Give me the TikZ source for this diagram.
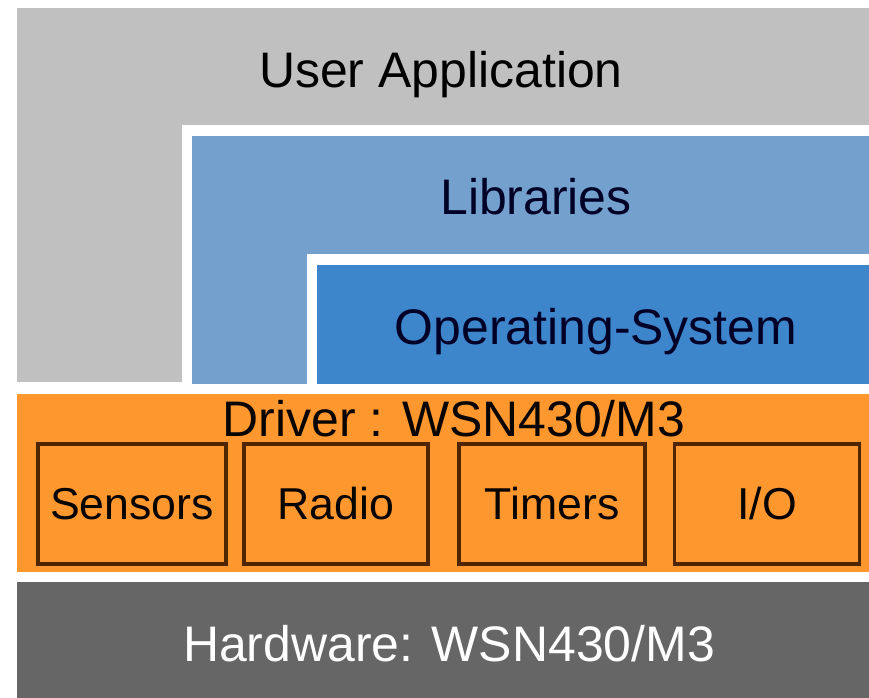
\documentclass[tikz,border=0pt]{standalone}
\usepackage{fontspec}
\setmainfont{Liberation Sans}
\definecolor{appgray}{RGB}{192,192,192}
\definecolor{libblue}{RGB}{116,160,206}
\definecolor{osblue}{RGB}{62,134,204}
\definecolor{drvorange}{RGB}{255,151,47}
\definecolor{drvline}{RGB}{80,38,0}
\definecolor{hwgray}{RGB}{102,102,102}
\tikzset{
  layertext/.style={anchor=base, font=\fontsize{14.2pt}{17pt}\selectfont},
  partbox/.style={draw=drvline, line width=.9pt, fill=drvorange, minimum height=1.2cm,
    inner sep=0pt, font=\fontsize{12.7pt}{15pt}\selectfont, text=black!90!drvline}
}
\begin{document}
\begin{tikzpicture}[x=.01cm,y=-.01cm]
    \useasboundingbox[fill=white] (0,0) rectangle (869,698);
    \fill[appgray] (17,8) rectangle (869,382);
    \fill[white] (182,125) rectangle (869,384);
    \fill[libblue] (192,136) rectangle (869,384);
    \fill[white] (307,254) rectangle (869,384);
    \fill[osblue] (317,265) rectangle (869,384);
    \fill[drvorange] (17,394) rectangle (869,572);
    \fill[hwgray] (17,582) rectangle (869,698);
    
    \node[layertext] (app) at (441,88) {User Application};
    \node[layertext, text=black!85!blue] (lib) at (536,215) {Libraries};
    \node[layertext, text=black!85!blue] (os) at (596,345) {Operating-System};
    \node[layertext, text=black!90!drvline] (drv) at (454,437) {Driver : WSN430/M3};
    \node[layertext, text=white] (hw) at (449,662) {Hardware: WSN430/M3};
    
    \foreach \x/\w/\t/\n in {132/188/Sensors/sens, 336/184/Radio/radio, 552/186/Timers/tim, 767/185/I\slash O/io}
      \node[partbox, minimum width=\w*.01cm] (\n) at (\x,504) {\t};
  \end{tikzpicture}
\end{document}
